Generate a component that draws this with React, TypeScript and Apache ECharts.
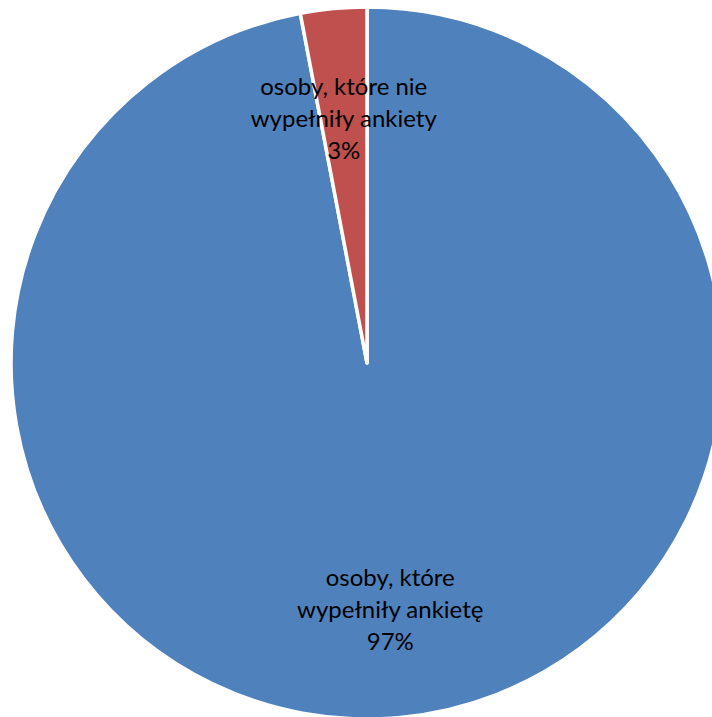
import React, { useEffect, useRef } from "react";
import * as echarts from "echarts";

const categories = ["osoby, które\nwypełniły ankietę", "osoby, które nie\nwypełniły ankiety"];
const values = [97, 3];
const colors = ["#4F81BD", "#C0504D"];

export default function App() {
  const ref = useRef<HTMLDivElement>(null);
  useEffect(() => {
    if (!ref.current) return;
    const chart = echarts.init(ref.current, undefined, { renderer: "svg" });
    const data = categories.map((name, i) => ({ name, value: values[i], itemStyle: { color: colors[i] } }));
    chart.setOption({
      animation: false,
      backgroundColor: "#ffffff",
      series: [
        {
          type: "pie",
          center: [367, 363],
          radius: [0, 356],
          startAngle: 90,
          clockwise: true,
          silent: true,
          label: { show: false },
          labelLine: { show: false },
          itemStyle: { borderColor: "#ffffff", borderWidth: 3.5 },
          data,
        },
        {
          type: "pie",
          center: [367, 363],
          radius: [132, 356],
          startAngle: 90,
          clockwise: true,
          silent: true,
          itemStyle: { color: "transparent", borderWidth: 0 },
          label: {
            show: true,
            position: "inside",
            formatter: (p: any) => `${p.name}\n${p.value}%`,
            fontFamily: "Lato",
            fontSize: 24,
            lineHeight: 32,
            color: "#000000",
            align: "center",
          },
          labelLine: { show: false },
          data: categories.map((name, i) => ({ name, value: values[i], itemStyle: { color: "transparent" } })),
        },
      ],
    });
    return () => chart.dispose();
  }, []);
  return (
    <div
      ref={ref}
      style={{ position: "fixed", left: 0, top: 0, width: 712, height: 717 }}
    />
  );
}
